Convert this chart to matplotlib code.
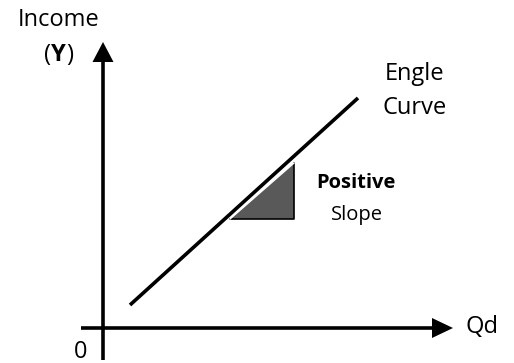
import matplotlib
matplotlib.use("Agg")
import matplotlib.pyplot as plt

# Engle curve (data units, origin at axes intersection)
curve_qd = [27, 255]
curve_income = [23, 230]
# slope triangle
tri_qd = [127, 191, 191]
tri_income = [109, 109, 165]

fig = plt.figure(figsize=(5.14, 3.63), dpi=100)
ax = fig.add_axes([0, 0, 1, 1])
ax.set_xlim(-103, 411)
ax.set_ylim(-35, 328)
ax.axis("off")

FONT = "Open Sans"
lw = 2.6

# axes lines
ax.plot([-22, 332], [0, 0], color="black", lw=lw, solid_capstyle="butt")
ax.plot([0, 0], [-32, 268], color="black", lw=lw, solid_capstyle="butt")
# arrowheads
ax.fill([329, 350, 329], [-10, 0, 10], color="black", lw=0)
ax.fill([-10.5, 0, 10.5], [266, 286, 266], color="black", lw=0)

# triangle
ax.fill(tri_qd, tri_income, color="#595959", lw=0)
ax.plot([tri_qd[0], tri_qd[1], tri_qd[2]], [tri_income[0], tri_income[1], tri_income[2]],
        color="black", lw=1.2)
ax.plot([tri_qd[0], tri_qd[2]], [tri_income[0], tri_income[2]], color="white", lw=1.0)

# Engle curve
ax.plot(curve_qd, curve_income, color="black", lw=lw, solid_capstyle="butt")

fs = 17
ax.text(-44.5, 308, "Income", fontsize=fs, family=FONT, ha="center", va="center")
ax.text(-52, 273, "(", fontsize=fs, family=FONT, ha="right", va="center")
ax.text(-44.5, 273, "Y", fontsize=fs, family=FONT, ha="center", va="center", fontweight="bold")
ax.text(-37, 273, ")", fontsize=fs, family=FONT, ha="left", va="center")
ax.text(312, 254, "Engle", fontsize=fs, family=FONT, ha="center", va="center")
ax.text(312, 220, "Curve", fontsize=fs, family=FONT, ha="center", va="center")
ax.text(252.5, 145, "Positive", fontsize=14.5, family=FONT, ha="center", va="center", fontweight="bold")
ax.text(254, 113, "Slope", fontsize=14.5, family=FONT, ha="center", va="center")
ax.text(379, 1, "Qd", fontsize=fs, family=FONT, ha="center", va="center")
ax.text(-22, -24, "0", fontsize=fs, family=FONT, ha="center", va="center")

fig.savefig("out.png", dpi=100)
